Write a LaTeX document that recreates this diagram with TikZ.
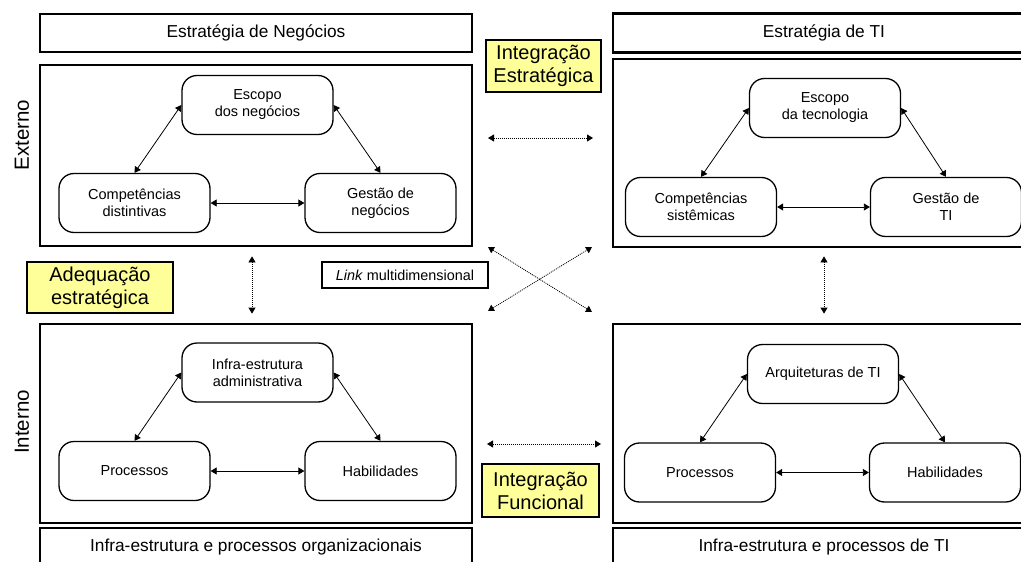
\documentclass[tikz,border=0pt]{standalone}
\usepackage{fontspec}
\setmainfont{Liberation Sans}
\usetikzlibrary{arrows.meta}
\definecolor{paleyellow}{RGB}{255,255,153}

\begin{document}
\begin{tikzpicture}[x=1pt, y=-1pt,
  bigbox/.style={draw, line width=2.8pt, minimum width=#1, inner sep=0pt,
    font=\fontsize{17.3}{20}\selectfont},
  bigbox/.default=432pt,
  block/.style={draw, line width=1.3pt, rounded corners=15pt, minimum width=151pt,
    minimum height=59pt, align=center, inner sep=0pt, font=\fontsize{14.5}{17}\selectfont},
  ybox/.style={draw, line width=2.3pt, fill=paleyellow, align=center, inner sep=0pt,
    font=\fontsize{20}{23}\selectfont},
  side/.style={rotate=90, font=\fontsize{20.5}{24}\selectfont},
  twoway/.style={line width=0.8pt, {Triangle[length=6pt,width=7pt]}-{Triangle[length=6pt,width=7pt]}},
  dotlink/.style={line width=0.8pt, dash pattern=on 1pt off 1pt,
    {Triangle[length=6pt,width=7pt]}-{Triangle[length=6pt,width=7pt]}}]

\clip (0,0) rectangle (1021,562);

% business side
\node[bigbox, minimum height=38pt] (estN) at (256,33) {Estratégia de Negócios};
\node[bigbox, minimum height=181pt] (extN) at (256,155.5) {};
\node[bigbox, minimum height=199pt] (intN) at (256,423.5) {};
\node[bigbox, minimum height=38pt] (infN) at (256,547) {Infra-estrutura e processos organizacionais};

% IT side
\node[bigbox=422pt, minimum height=39pt] (estT) at (824,33) {Estratégia de TI};
\node[bigbox=422pt, minimum height=188pt] (extT) at (824,153) {};
\node[bigbox=422pt, minimum height=199pt] (intT) at (824,423.5) {};
\node[bigbox=422pt, minimum height=38pt] (infT) at (824,547) {Infra-estrutura e processos de TI};

\node[side] (ext) at (22,135) {Externo};
\node[side] (int) at (22,422) {Interno};

\node[block] (escN) at (257.5,105) {Escopo\\dos negócios};
\node[block] (compN) at (134.5,203) {Competências\\distintivas};
\node[block] (gesN) at (380.5,203) {Gestão de\\negócios};

\node[block] (adm) at (257.5,372.5) {Infra-estrutura\\administrativa};
\node[block] (procN) at (134.5,471) {Processos};
\node[block] (habN) at (380.5,471) {Habilidades};

\node[block] (escT) at (825,108) {Escopo\\da tecnologia};
\node[block] (compT) at (701,207) {Competências\\sistêmicas};
\node[block] (gesT) at (946,207) {Gestão de\\TI};

\node[block] (arq) at (823,374) {Arquiteturas de TI};
\node[block] (procT) at (700,472.5) {Processos};
\node[block] (habT) at (945,472.5) {Habilidades};

\foreach \t/\l/\r in {escN/compN/gesN, adm/procN/habN, escT/compT/gesT, arq/procT/habT} {
  \draw[twoway] (\t.west) -- (\l.north);
  \draw[twoway] (\t.east) -- (\r.north);
  \draw[twoway] (\l.east) -- (\r.west);
}

% labels in the middle
\node[ybox, minimum width=146pt, minimum height=51pt] (adeq) at (100,287.5) {Adequação\\estratégica};
\node[ybox, minimum width=115pt, minimum height=52pt] (intEst) at (543.5,66) {Integração\\Estratégica};
\node[ybox, minimum width=117pt, minimum height=53pt] (intFun) at (540.5,490.5) {Integração\\Funcional};
\node[draw, line width=2pt, minimum width=166pt, minimum height=26pt, inner sep=0pt,
  font=\fontsize{14.4}{17}\selectfont] (link) at (405,275) {\textit{Link} multidimensional};

\coordinate (e1) at (488,138);
\coordinate (e2) at (593,138);
\coordinate (f1) at (487,444);
\coordinate (f2) at (601,444);
\coordinate (x1) at (488,247);
\coordinate (x2) at (592,312);
\coordinate (y1) at (488,311);
\coordinate (y2) at (592,247);

\draw[dotlink] (e1) -- (e2);
\draw[dotlink] (f1) -- (f2);
\draw[dotlink] (x1) -- (x2);
\draw[dotlink] (y1) -- (y2);
\draw[dotlink] ([xshift=-4pt, yshift=-9pt]extN.south) -- ([xshift=-4pt, yshift=9pt]intN.north);
\draw[dotlink] ([yshift=-8pt]extT.south) -- ([yshift=9pt]intT.north);

\end{tikzpicture}
\end{document}
